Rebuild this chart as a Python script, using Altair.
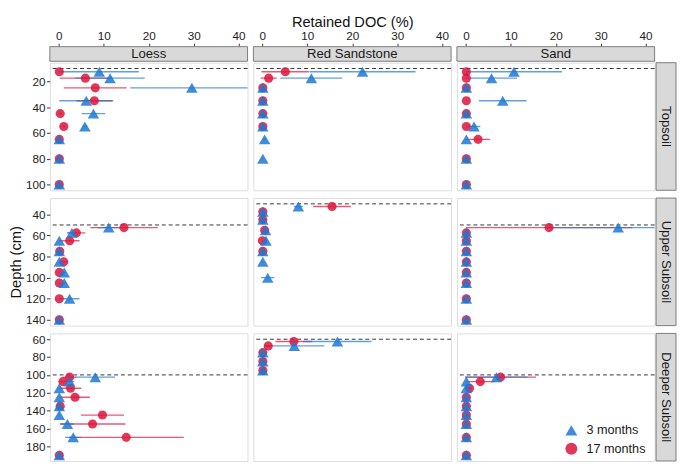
import altair as alt
import pandas as pd

FONT = "Liberation Sans"
BLUE = "#1E78D2"
RED = "#DC143C"

SOILS = ["Loess", "Red Sandstone", "Sand"]
LAYERS = ["Topsoil", "Upper Subsoil", "Deeper Subsoil"]
PERIODS = ["3 months", "17 months"]

# dashed horizon boundary (cm) per layer
BOUNDARY = {
    "Loess": [10, 50, 100],
    "Red Sandstone": [10, 30, 60],
    "Sand": [10, 50, 100],
}

Y_DOMAINS = [[5.5, 104.5], [24.5, 145.5], [53.5, 196.5]]
Y_TICKS = [[20, 40, 60, 80, 100],
           [40, 60, 80, 100, 120, 140],
           [60, 80, 100, 120, 140, 160, 180]]
X_DOMAIN = [-2, 42]
X_TICKS = [0, 10, 20, 30, 40]

# ---- Loess ----
LO_TOP_DEPTH = [12.5, 17.5, 25, 35, 45, 55, 65, 80, 100]
LO_TOP_M3 = [9.0, 11.4, 29.6, 6.1, 7.7, 5.8, 0.1, 0.1, 0.1]
LO_TOP_E3 = [8.8, 7.7, 13.7, 6.0, 2.6, 0.5, 0.1, 0.1, 0.1]
LO_TOP_M17 = [0.1, 5.9, 8.1, 7.9, 0.3, 1.1, 0.1, 0.1, 0.1]
LO_TOP_E17 = [0.1, 5.7, 7.0, 4.0, 0.3, 0.3, 0.1, 0.1, 0.1]

LO_UP_DEPTH = [52.5, 57.5, 65, 75, 85, 95, 105, 120, 140]
LO_UP_M3 = [11.1, 2.9, 0.1, 0.1, 0.1, 1.2, 1.2, 2.4, 0.1]
LO_UP_E3 = [2.5, 1.0, 0.1, 0.1, 0.1, 0.4, 0.4, 2.2, 0.1]
LO_UP_M17 = [14.5, 3.9, 2.4, 0.2, 1.1, 0.1, 0.1, 0.1, 0.1]
LO_UP_E17 = [7.5, 2.0, 2.2, 0.2, 0.8, 0.1, 0.1, 0.1, 0.1]

LO_DEEP_DEPTH = [102.5, 107.5, 115, 125, 135, 145, 155, 170, 190]
LO_DEEP_M3 = [8.1, 2.4, 0.1, 0.1, 0.1, 0.1, 1.9, 3.2, 0.1]
LO_DEEP_E3 = [4.4, 1.0, 0.1, 0.1, 0.1, 0.1, 1.5, 1.8, 0.1]
LO_DEEP_M17 = [2.4, 0.9, 2.6, 3.6, 0.3, 9.7, 7.5, 15.0, 0.1]
LO_DEEP_E17 = [1.5, 0.8, 2.4, 3.3, 0.3, 4.8, 7.3, 12.8, 0.1]

# ---- Red Sandstone ----
RS_TOP_DEPTH = [12.5, 17.5, 25, 35, 45, 55, 65, 80]
RS_TOP_M3 = [22.3, 10.9, 0.1, 0.1, 0.1, 0.1, 0.5, 0.1]
RS_TOP_E3 = [11.8, 6.9, 0.1, 0.1, 0.1, 0.1, 0.3, 0.1]
RS_TOP_M17 = [5.1, 1.4, 0.1, 0.1, 0.1, 0.1, None, None]
RS_TOP_E17 = [5.3, 1.8, 0.1, 0.1, 0.1, 0.1, None, None]

RS_UP_DEPTH = [32.5, 37.5, 45, 55, 65, 75, 85, 100]
RS_UP_M3 = [8.0, 0.1, 0.1, 0.7, 0.8, 0.1, 0.1, 1.2]
RS_UP_E3 = [1.0, 0.1, 0.1, 0.3, 0.3, 0.1, 0.1, 1.5]
RS_UP_M17 = [15.5, 0.1, 0.1, 0.5, 0.0, 0.1, None, None]
RS_UP_E17 = [4.2, 0.1, 0.1, 0.2, 0.1, 0.1, None, None]

RS_DEEP_DEPTH = [62.5, 67.5, 75, 85, 95]
RS_DEEP_M3 = [16.7, 7.1, 0.1, 0.1, 0.1]
RS_DEEP_E3 = [7.6, 6.7, 0.1, 0.1, 0.1]
RS_DEEP_M17 = [7.0, 1.3, 0.1, 0.1, 0.1]
RS_DEEP_E17 = [4.1, 0.8, 0.1, 0.1, 0.1]

# ---- Sand ----
SA_TOP_DEPTH = [12.5, 17.5, 25, 35, 45, 55, 65, 80, 100]
SA_TOP_M3 = [10.7, 5.7, 0.1, 8.2, 0.1, 1.8, 0.1, 0.1, 0.1]
SA_TOP_E3 = [10.7, 5.7, 0.1, 5.3, 0.1, 1.4, 0.1, 0.1, 0.1]
SA_TOP_M17 = [0.1, 0.1, 0.1, 0.1, 0.1, 0.1, 2.7, 0.1, 0.1]
SA_TOP_E17 = [0.1, 0.1, 0.1, 0.1, 0.1, 0.1, 2.7, 0.1, 0.1]

SA_UP_DEPTH = [52.5, 57.5, 65, 75, 85, 95, 105, 120, 140]
SA_UP_M3 = [33.9, 0.1, 0.1, 0.1, 0.1, 0.1, 0.1, 0.1, 0.1]
SA_UP_E3 = [15.4, 0.1, 0.1, 0.1, 0.1, 0.1, 0.1, 0.1, 0.1]
SA_UP_M17 = [18.5, 0.1, 0.1, 0.1, 0.1, 0.1, 0.1, 0.1, 0.1]
SA_UP_E17 = [18.5, 0.1, 0.1, 0.1, 0.1, 0.1, 0.1, 0.1, 0.1]

SA_DEEP_DEPTH = [102.5, 107.5, 115, 125, 135, 145, 155, 170, 190]
SA_DEEP_M3 = [6.8, 0.1, 0.1, 0.1, 0.1, 0.1, 0.1, 0.1, 0.1]
SA_DEEP_E3 = [6.9, 0.1, 0.1, 0.1, 0.1, 0.1, 0.1, 0.1, 0.1]
SA_DEEP_M17 = [7.7, 3.2, 0.8, 0.1, 0.1, 0.1, 0.1, 0.1, 0.1]
SA_DEEP_E17 = [7.9, 3.2, 0.5, 0.1, 0.1, 0.1, 0.1, 0.1, 0.1]

PANELS = {
    ("Loess", "Topsoil"): (LO_TOP_DEPTH, LO_TOP_M3, LO_TOP_E3, LO_TOP_M17, LO_TOP_E17),
    ("Loess", "Upper Subsoil"): (LO_UP_DEPTH, LO_UP_M3, LO_UP_E3, LO_UP_M17, LO_UP_E17),
    ("Loess", "Deeper Subsoil"): (LO_DEEP_DEPTH, LO_DEEP_M3, LO_DEEP_E3, LO_DEEP_M17, LO_DEEP_E17),
    ("Red Sandstone", "Topsoil"): (RS_TOP_DEPTH, RS_TOP_M3, RS_TOP_E3, RS_TOP_M17, RS_TOP_E17),
    ("Red Sandstone", "Upper Subsoil"): (RS_UP_DEPTH, RS_UP_M3, RS_UP_E3, RS_UP_M17, RS_UP_E17),
    ("Red Sandstone", "Deeper Subsoil"): (RS_DEEP_DEPTH, RS_DEEP_M3, RS_DEEP_E3, RS_DEEP_M17, RS_DEEP_E17),
    ("Sand", "Topsoil"): (SA_TOP_DEPTH, SA_TOP_M3, SA_TOP_E3, SA_TOP_M17, SA_TOP_E17),
    ("Sand", "Upper Subsoil"): (SA_UP_DEPTH, SA_UP_M3, SA_UP_E3, SA_UP_M17, SA_UP_E17),
    ("Sand", "Deeper Subsoil"): (SA_DEEP_DEPTH, SA_DEEP_M3, SA_DEEP_E3, SA_DEEP_M17, SA_DEEP_E17),
}

W, H = 203, 131
LEG_X, LEG_Y = 111, 93


def panel_frame(depth, m3, e3, m17, e17):
    rows = []
    for per, ms, es in (("17 months", m17, e17), ("3 months", m3, e3)):
        for d, m, e in zip(depth, ms, es):
            if m is None:
                continue
            rows.append({"depth": d, "period": per, "mean": m,
                         "lo": m - e, "hi": m + e})
    return pd.DataFrame(rows)


def make_panel(ri, ci):
    soil, layer = SOILS[ci], LAYERS[ri]
    df = panel_frame(*PANELS[(soil, layer)])
    xs = alt.Scale(domain=X_DOMAIN, nice=False, zero=False)
    ys = alt.Scale(domain=Y_DOMAINS[ri], nice=False, zero=False, reverse=True)

    if ri == 0:
        xaxis = alt.Axis(orient="top", values=X_TICKS, offset=17, domain=False,
                         grid=False, tickSize=3, tickColor="#333333",
                         labelFont=FONT, labelFontSize=12, labelColor="#222222",
                         labelPadding=0.5, title="Retained DOC (%)",
                         titleFont=FONT, titleFontSize=15, titleFontWeight="normal",
                         titleColor="#111111", titlePadding=1,
                         titleOpacity=1 if ci == 1 else 0)
    else:
        xaxis = None
    if ci == 0:
        yaxis = alt.Axis(values=Y_TICKS[ri], domain=False, grid=False, tickSize=3.5,
                         tickColor="#333333", labelFont=FONT, labelFontSize=12,
                         labelColor="#222222", labelPadding=1.5,
                         title="Depth (cm)", titleFont=FONT, titleFontSize=15,
                         titleFontWeight="normal", titleColor="#111111",
                         titlePadding=2, titleOpacity=1 if ri == 1 else 0)
    else:
        yaxis = None

    is_legend = (ri == 2 and ci == 2)

    bdf = pd.DataFrame({"b": [BOUNDARY[soil][ri]]})
    dashed = alt.Chart(bdf).mark_rule(color="#333333", strokeDash=[4, 3],
                                      strokeWidth=1).encode(
        y=alt.Y("b:Q", scale=ys, axis=yaxis))

    base = alt.Chart(df)
    err17 = base.transform_filter(alt.datum.period == "17 months").mark_rule(
        color=RED, opacity=0.7, strokeWidth=1.4, clip=True).encode(
        x=alt.X("lo:Q", scale=xs, axis=xaxis), x2="hi:Q",
        y=alt.Y("depth:Q", scale=ys, axis=yaxis))
    err3 = base.transform_filter(alt.datum.period == "3 months").mark_rule(
        color=BLUE, opacity=0.7, strokeWidth=1.4, clip=True).encode(
        x=alt.X("lo:Q", scale=xs, axis=xaxis), x2="hi:Q",
        y=alt.Y("depth:Q", scale=ys, axis=yaxis))

    legend = alt.Legend(title=None, orient="none", legendX=LEG_X, legendY=LEG_Y,
                        labelFont=FONT, labelFontSize=13, labelColor="#1a1a1a",
                        symbolSize=150, symbolOpacity=0.85, rowPadding=5,
                        labelOffset=9, padding=0, symbolStrokeWidth=0) if is_legend else None
    shape_enc = alt.Shape("period:N", scale=alt.Scale(domain=PERIODS,
                          range=["triangle-up", "circle"]), legend=legend)
    color_enc = alt.Color("period:N", scale=alt.Scale(domain=PERIODS,
                          range=[BLUE, RED]), legend=legend)
    circles = base.transform_filter(alt.datum.period == "17 months").mark_point(
        filled=True, opacity=0.85, strokeWidth=0, size=88).encode(
        x=alt.X("mean:Q", scale=xs, axis=xaxis),
        y=alt.Y("depth:Q", scale=ys, axis=yaxis),
        shape=shape_enc, color=color_enc)
    triangles = base.transform_filter(alt.datum.period == "3 months").mark_point(
        filled=True, opacity=0.85, strokeWidth=0, size=140).encode(
        x=alt.X("mean:Q", scale=xs, axis=xaxis),
        y=alt.Y("depth:Q", scale=ys, axis=yaxis),
        shape=shape_enc, color=color_enc)

    layers = [dashed, err17, err3, circles, triangles]

    if ri == 0:
        d = alt.Data(values=[{"label": soil}])
        layers.append(alt.Chart(d).mark_rect(fill="#d9d9d9", stroke="#7a7a7a",
                                             strokeWidth=1).encode(
            x=alt.value(0), x2=alt.value(W), y=alt.value(-16.5), y2=alt.value(-1.5)))
        layers.append(alt.Chart(d).mark_text(font=FONT, fontSize=13.5, color="#1a1a1a",
                                             baseline="middle").encode(
            x=alt.value(W / 2), y=alt.value(-9), text="label:N"))
    if ci == 2:
        d = alt.Data(values=[{"label": layer}])
        layers.append(alt.Chart(d).mark_rect(fill="#d9d9d9", stroke="#7a7a7a",
                                             strokeWidth=1).encode(
            x=alt.value(W + 1.5), x2=alt.value(W + 22), y=alt.value(0), y2=alt.value(H)))
        layers.append(alt.Chart(d).mark_text(font=FONT, fontSize=13.5, color="#1a1a1a",
                                             angle=90, baseline="middle").encode(
            x=alt.value(W + 11.75), y=alt.value(H / 2), text="label:N"))

    return alt.layer(*layers).properties(width=W, height=H)


panels = [make_panel(r, c) for r in range(3) for c in range(3)]

chart = alt.concat(*panels, columns=3, spacing={"row": 6, "column": 4},
                   align="each").resolve_scale(
    x="independent", y="independent", color="independent",
    shape="independent").resolve_legend(
    color="independent", shape="independent").properties(
    padding={"left": 0, "top": 0, "right": 0, "bottom": 0},
    background="white",
).configure_view(stroke="#7a7a7a", strokeWidth=1).configure(font=FONT)

chart.save("out.html", embed_options={"renderer": "svg", "actions": False})
